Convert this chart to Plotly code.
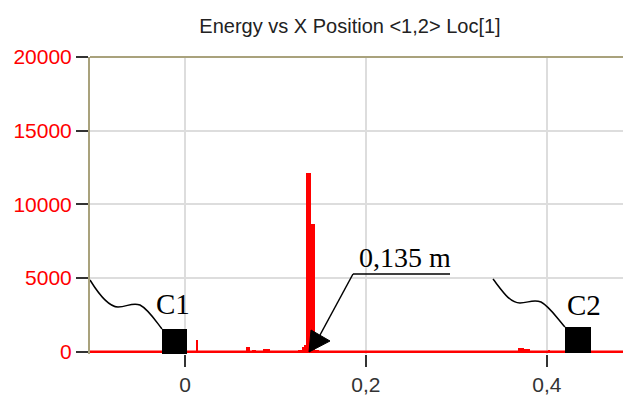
import plotly.graph_objects as go

# ---- data ----
bin_x = [0.0133,
         0.0689, 0.0711, 0.0752, 0.0774, 0.0884, 0.0906, 0.0928,
         0.1267, 0.1289, 0.1311, 0.1333, 0.1355, 0.1377, 0.1399, 0.1421, 0.1443, 0.1465,
         0.3691, 0.3713, 0.3735, 0.3757, 0.3779, 0.3801, 0.4028]
energy = [800,
          320, 320, 150, 150, 170, 170, 170,
          130, 130, 300, 470, 12100, 12100, 8700, 8700, 150, 100,
          290, 290, 290, 220, 220, 220, 150]
bin_width = 0.0022
x_ticks = [0, 0.2, 0.4]
x_tick_labels = ["0", "0,2", "0,4"]
y_ticks = [0, 5000, 10000, 15000, 20000]
y_tick_labels = ["0", "5000", "10000", "15000", "20000"]
x_range = [-0.105, 0.493]
y_range = [-150, 20000]

# page body has an 8px margin, so the figure is placed at (8, 8)
OFF = 8
PAGE_W, PAGE_H = 631, 398
W, H = PAGE_W - OFF, PAGE_H - OFF
PL, PR, PT, PB = 90, 631, 57, 354          # plot box in page pixels
L, R, T, B = PL - OFF, PAGE_W - PR, PT - OFF, PAGE_H - PB

# page pixel -> data helpers for the hand-drawn decorations
def X(px):
    return x_range[0] + (px - PL) / (PR - PL) * (x_range[1] - x_range[0])

def Y(py):
    return y_range[1] - (py - PT) / (PB - PT) * (y_range[1] - y_range[0])

fig = go.Figure()
fig.add_trace(go.Scatter(x=x_range, y=[0, 0], mode="lines",
                         line=dict(color="#ff0000", width=2.5),
                         hoverinfo="skip", showlegend=False))
fig.add_trace(go.Bar(x=bin_x, y=energy, width=bin_width,
                     marker=dict(color="#ff0000", line=dict(width=0)),
                     showlegend=False))

olive = "#a9a27c"
grid = "#dddddd"

shapes = []
shapes.append(dict(type="line", xref="paper", yref="paper", x0=0, x1=1, y0=1, y1=1,
                   line=dict(color=olive, width=2)))
shapes.append(dict(type="rect", x0=X(162), x1=X(187), y0=Y(354), y1=Y(329),
                   fillcolor="black", line=dict(width=0)))
shapes.append(dict(type="rect", x0=X(565), x1=X(591), y0=Y(353), y1=Y(327),
                   fillcolor="black", line=dict(width=0)))

def curve(pts):
    s = f"M {X(pts[0][0])},{Y(pts[0][1])}"
    rest = pts[1:]
    for i in range(0, len(rest), 3):
        a, b, c = rest[i:i + 3]
        s += f" C {X(a[0])},{Y(a[1])} {X(b[0])},{Y(b[1])} {X(c[0])},{Y(c[1])}"
    return s

c1 = [(90, 280), (98, 293), (108, 307), (118, 307),
      (127, 307), (132, 302), (140, 305),
      (148, 309), (155, 320), (162, 329)]
c2 = [(493, 279), (503, 292), (510, 303), (520, 303),
      (528, 303), (533, 299), (541, 302),
      (549, 306), (557, 318), (565, 327)]
for c in (c1, c2):
    shapes.append(dict(type="path", path=curve(c), line=dict(color="black", width=1.5)))

shapes.append(dict(type="line", x0=X(353), x1=X(450), y0=Y(274), y1=Y(274),
                   line=dict(color="black", width=1.5)))
shapes.append(dict(type="line", x0=X(353), x1=X(320), y0=Y(274), y1=Y(335),
                   line=dict(color="black", width=1.5)))
tri = f"M {X(309)},{Y(352)} L {X(311)},{Y(330)} L {X(330)},{Y(341)} Z"
shapes.append(dict(type="path", path=tri, fillcolor="black", line=dict(color="black", width=1)))

serif = "Liberation Serif"
annotations = [
    dict(x=X(173), y=Y(304), text="C1", showarrow=False, xanchor="center", yanchor="middle",
         font=dict(family=serif, size=29, color="black")),
    dict(x=X(583.5), y=Y(305), text="C2", showarrow=False, xanchor="center", yanchor="middle",
         font=dict(family=serif, size=29, color="black")),
    dict(x=X(405), y=Y(257), text="0,135 m", showarrow=False, xanchor="center", yanchor="middle",
         font=dict(family=serif, size=28, color="black")),
]

fig.update_layout(
    width=W, height=H,
    margin=dict(l=L, r=R, t=T, b=B, pad=0),
    paper_bgcolor="white", plot_bgcolor="white",
    bargap=0,
    title=dict(text="Energy vs X Position &lt;1,2&gt; Loc[1]", xref="container",
               x=(350 - OFF) / W, xanchor="center", yref="container",
               y=1 - (26 - OFF) / H, yanchor="middle",
               font=dict(family="Liberation Sans", size=20, color="#222222")),
    shapes=shapes,
    annotations=annotations,
    xaxis=dict(range=x_range, tickvals=x_ticks, ticktext=x_tick_labels,
               ticks="outside", ticklen=12, tickwidth=1.5, tickcolor="#333333",
               showgrid=True, gridcolor=grid, gridwidth=2, zeroline=False, showline=False,
               tickfont=dict(family="Liberation Sans", size=21, color="#333333")),
    yaxis=dict(range=y_range, tickvals=y_ticks, ticktext=y_tick_labels,
               ticks="outside", ticklen=12, tickwidth=1.5, tickcolor="#333333",
               showgrid=True, gridcolor=grid, gridwidth=2, zeroline=False,
               showline=True, linecolor=olive, linewidth=2,
               tickfont=dict(family="Liberation Sans", size=21, color="#ff0000")),
)

fig.write_html("out.html")
